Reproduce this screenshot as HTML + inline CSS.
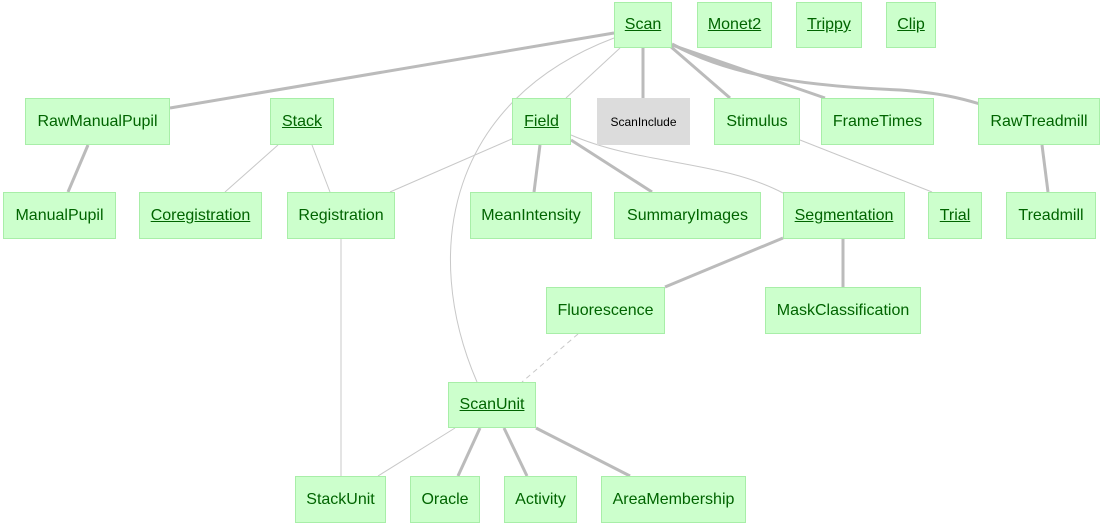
<!DOCTYPE html>
<html><head><meta charset="utf-8"><style>
body{margin:0;width:1105px;height:528px;background:#fff;position:relative;overflow:hidden;font-family:"Liberation Sans",Arial,sans-serif}
.n{position:absolute;box-sizing:border-box;background:#ccffcc;border:1px solid #a8eea8;color:#006400;font-size:16px;display:flex;align-items:center;justify-content:center;white-space:nowrap}
.u{text-decoration:underline}
.g{background:#dcdcdc;border-color:#dcdcdc;color:#000;font-size:12px}
svg{position:absolute;left:0;top:0}
</style></head><body>
<svg width="1105" height="528" fill="none">
<g stroke="#bbb" stroke-width="3">
<line x1="614" y1="33" x2="170" y2="108"/>
<line x1="643" y1="47" x2="643" y2="98"/>
<line x1="670" y1="46" x2="730" y2="98"/>
<line x1="672" y1="45" x2="825" y2="98"/>
<path d="M672 44 C720 70 780 85 900 90 C940 93 960 98 980 104"/>
<line x1="88" y1="145" x2="68" y2="192"/>
<line x1="540" y1="145" x2="534" y2="192"/>
<line x1="571" y1="140" x2="652" y2="192"/>
<line x1="1042" y1="145" x2="1048" y2="192"/>
<line x1="783" y1="238" x2="665" y2="287"/>
<line x1="843" y1="239" x2="843" y2="287"/>
<line x1="480" y1="428" x2="458" y2="476"/>
<line x1="504" y1="428" x2="527" y2="476"/>
<line x1="536" y1="428" x2="630" y2="476"/>
</g>
<g stroke="#c8c8c8" stroke-width="1">
<line x1="620" y1="48" x2="566" y2="98"/>
<path d="M614 38 C450 100 420 250 477 382"/>
<line x1="278" y1="145" x2="225" y2="192"/>
<line x1="312" y1="145" x2="330" y2="192"/>
<line x1="514" y1="138" x2="390" y2="192"/>
<path d="M571 135 C640 165 720 160 783 193"/>
<line x1="800" y1="140" x2="932" y2="192"/>
<line x1="341" y1="239" x2="341" y2="476"/>
<line x1="578" y1="334" x2="522" y2="382" stroke-dasharray="5,4"/>
<line x1="455" y1="428" x2="378" y2="476"/>
</g>
</svg>
<div class="n u" style="left:614px;top:2px;width:58px;height:46px">Scan</div>
<div class="n u" style="left:697px;top:2px;width:75px;height:46px">Monet2</div>
<div class="n u" style="left:796px;top:2px;width:66px;height:46px">Trippy</div>
<div class="n u" style="left:886px;top:2px;width:50px;height:46px">Clip</div>
<div class="n" style="left:25px;top:98px;width:145px;height:47px">RawManualPupil</div>
<div class="n u" style="left:270px;top:98px;width:64px;height:47px">Stack</div>
<div class="n u" style="left:512px;top:98px;width:59px;height:47px">Field</div>
<div class="n g" style="left:597px;top:98px;width:93px;height:47px">ScanInclude</div>
<div class="n" style="left:714px;top:98px;width:86px;height:47px">Stimulus</div>
<div class="n" style="left:821px;top:98px;width:113px;height:47px">FrameTimes</div>
<div class="n" style="left:978px;top:98px;width:122px;height:47px">RawTreadmill</div>
<div class="n" style="left:3px;top:192px;width:113px;height:47px">ManualPupil</div>
<div class="n u" style="left:139px;top:192px;width:123px;height:47px">Coregistration</div>
<div class="n" style="left:287px;top:192px;width:108px;height:47px">Registration</div>
<div class="n" style="left:470px;top:192px;width:122px;height:47px">MeanIntensity</div>
<div class="n" style="left:614px;top:192px;width:147px;height:47px">SummaryImages</div>
<div class="n u" style="left:783px;top:192px;width:122px;height:47px">Segmentation</div>
<div class="n u" style="left:928px;top:192px;width:54px;height:47px">Trial</div>
<div class="n" style="left:1006px;top:192px;width:90px;height:47px">Treadmill</div>
<div class="n" style="left:546px;top:287px;width:119px;height:47px">Fluorescence</div>
<div class="n" style="left:765px;top:287px;width:156px;height:47px">MaskClassification</div>
<div class="n u" style="left:448px;top:382px;width:88px;height:46px">ScanUnit</div>
<div class="n" style="left:295px;top:476px;width:91px;height:47px">StackUnit</div>
<div class="n" style="left:410px;top:476px;width:70px;height:47px">Oracle</div>
<div class="n" style="left:504px;top:476px;width:73px;height:47px">Activity</div>
<div class="n" style="left:601px;top:476px;width:145px;height:47px">AreaMembership</div>
</body></html>
